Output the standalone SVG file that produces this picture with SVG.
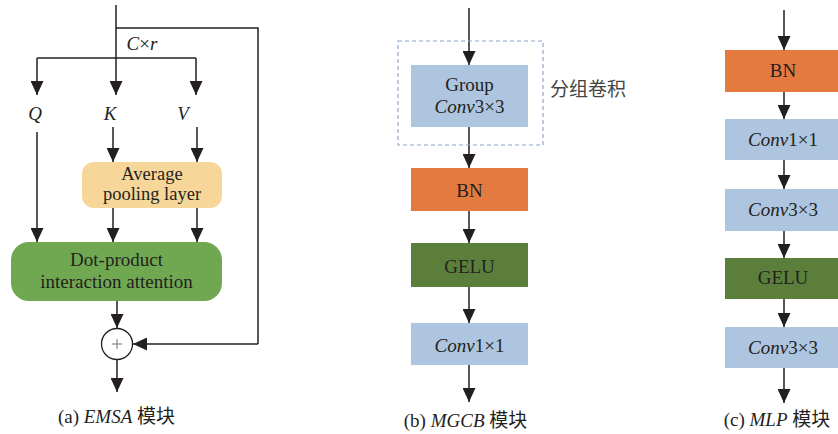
<svg xmlns="http://www.w3.org/2000/svg" width="838" height="434" viewBox="0 0 838 434">
  <defs>
    <marker id="arrow" markerUnits="userSpaceOnUse" markerWidth="14" markerHeight="13" refX="14" refY="6.5" orient="auto">
      <path d="M0,0 L14,6.5 L0,13 Z" fill="#231f20"/>
    </marker>
    <style>
      .ln { fill: none; stroke: #231f20; stroke-width: 1.5; }
      .ar { fill: none; stroke: #231f20; stroke-width: 1.5; marker-end: url(#arrow); }
      .t { font-family: "Liberation Serif", "Noto Sans CJK SC", serif; font-size: 19px; fill: #231f20; text-anchor: middle; }
      .it { font-style: italic; }
      .cjk { font-family: "Noto Sans CJK SC", sans-serif; }
      .pool { fill: #f6d799; }
      .dot { fill: #70a852; }
      .bn { fill: #e57a41; }
      .gelu { fill: #5b7f3b; }
      .conv { fill: #adc5df; }
    </style>
  </defs>
  <rect width="838" height="434" fill="#ffffff"/>

  <!-- (a) EMSA -->
  <g id="emsa-connectors">
    <path class="ar" d="M116,5 V95"/>
    <path class="ln" d="M116,28 H258 V344"/>
    <path class="ar" d="M258,344 H133"/>
    <path class="ln" d="M37,58 H196"/>
    <path class="ar" d="M37,58 V95"/>
    <path class="ar" d="M196,58 V95"/>
    <path class="ar" d="M37,132 V242"/>
    <path class="ar" d="M113,127 V162"/>
    <path class="ar" d="M197,127 V162"/>
    <path class="ar" d="M113,208 V242"/>
    <path class="ar" d="M197,208 V242"/>
    <path class="ar" d="M117,301 V328"/>
    <path class="ar" d="M117,360 V392"/>
  </g>
  <text class="t" x="142" y="50"><tspan class="it">C</tspan>×<tspan class="it">r</tspan></text>
  <g id="q"><text class="t it" x="35" y="120">Q</text></g>
  <g id="k"><text class="t it" x="110" y="120">K</text></g>
  <g id="v"><text class="t it" x="183" y="120">V</text></g>
  <g id="pooling">
    <rect class="pool" x="82" y="162" width="140" height="46" rx="12"/>
    <text class="t" x="152" y="180" style="font-size:18.5px">Average</text>
    <text class="t" x="152" y="200" style="font-size:18.5px">pooling layer</text>
  </g>
  <g id="attention">
    <rect class="dot" x="11" y="242" width="211" height="59" rx="18"/>
    <text class="t" x="116.5" y="266">Dot-product</text>
    <text class="t" x="116.5" y="288">interaction attention</text>
  </g>
  <g id="add">
    <circle cx="117" cy="344" r="15.5" fill="#ffffff" stroke="#231f20" stroke-width="1.3"/>
    <path d="M112,344 H122 M117,339 V349" stroke="#777" stroke-width="1"/>
  </g>
  <text class="t" x="116.5" y="423">(a) <tspan class="it">EMSA</tspan> <tspan class="cjk">模块</tspan></text>

  <!-- (b) MGCB -->
  <g id="mgcb-connectors">
    <path class="ar" d="M469,8 V65"/>
    <path class="ar" d="M469,127 V168"/>
    <path class="ar" d="M469,211 V243"/>
    <path class="ar" d="M469,287 V323"/>
    <path class="ar" d="M469,365 V402"/>
  </g>
  <g id="group-conv">
    <rect x="398" y="41" width="145" height="104" fill="none" stroke="#8da6c9" stroke-width="1.2" stroke-dasharray="4,3"/>
    <rect class="conv" x="411" y="65" width="117" height="62"/>
    <text class="t" x="469.5" y="91">Group</text>
    <text class="t" x="469.5" y="113"><tspan class="it">Conv</tspan>3×3</text>
    <text class="t cjk" x="588" y="96" style="fill:#444;font-size:19px">分组卷积</text>
  </g>
  <g id="b-bn">
    <rect class="bn" x="411" y="168" width="117" height="43"/>
    <text class="t" x="469.5" y="197">BN</text>
  </g>
  <g id="b-gelu">
    <rect class="gelu" x="411" y="243" width="117" height="44"/>
    <text class="t" x="469.5" y="273">GELU</text>
  </g>
  <g id="b-conv1">
    <rect class="conv" x="411" y="323" width="117" height="42"/>
    <text class="t" x="469.5" y="352"><tspan class="it">Conv</tspan>1×1</text>
  </g>
  <text class="t" x="465.5" y="427">(b) <tspan class="it">MGCB</tspan> <tspan class="cjk">模块</tspan></text>

  <!-- (c) MLP -->
  <g id="mlp-connectors">
    <path class="ar" d="M784,10 V50"/>
    <path class="ar" d="M784,92 V119"/>
    <path class="ar" d="M784,160 V189"/>
    <path class="ar" d="M784,231 V258"/>
    <path class="ar" d="M784,299 V327"/>
    <path class="ar" d="M784,368 V403"/>
  </g>
  <g id="c-bn">
    <rect class="bn" x="725" y="50" width="117" height="42"/>
    <text class="t" x="783" y="77">BN</text>
  </g>
  <g id="c-conv1">
    <rect class="conv" x="725" y="119" width="117" height="41"/>
    <text class="t" x="783" y="146"><tspan class="it">Conv</tspan>1×1</text>
  </g>
  <g id="c-conv3a">
    <rect class="conv" x="725" y="189" width="117" height="42"/>
    <text class="t" x="783" y="216"><tspan class="it">Conv</tspan>3×3</text>
  </g>
  <g id="c-gelu">
    <rect class="gelu" x="725" y="258" width="117" height="41"/>
    <text class="t" x="783" y="284">GELU</text>
  </g>
  <g id="c-conv3b">
    <rect class="conv" x="725" y="327" width="117" height="41"/>
    <text class="t" x="783" y="354"><tspan class="it">Conv</tspan>3×3</text>
  </g>
  <text class="t" x="777" y="426">(c) <tspan class="it">MLP</tspan> <tspan class="cjk">模块</tspan></text>
</svg>
